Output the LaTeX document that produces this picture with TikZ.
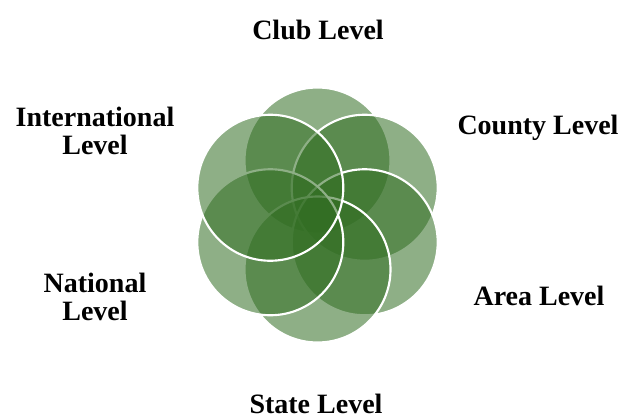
\documentclass[tikz,border=0pt]{standalone}
\usepackage{fontspec}
\setmainfont{Liberation Serif}
\definecolor{petal}{RGB}{50,110,35}
\begin{document}
\begin{tikzpicture}[x=0.75pt,y=-0.75pt,
  petalcircle/.style={circle,minimum size=146*0.75pt,inner sep=0pt,
    fill=petal,fill opacity=0.55,draw=white,draw opacity=1,line width=1.6pt},
  lbl/.style={font=\bfseries\fontsize{21}{21.5}\selectfont,align=center,
    inner sep=0pt,anchor=south,text depth=0pt}]
\useasboundingbox[fill=white] (0,0) rectangle (625,418);
\node[petalcircle] (club) at (317.5,160.5) {};
\node[petalcircle] (county) at (364.7,187.75) {};
\node[petalcircle] (area) at (364.7,242.25) {};
\node[petalcircle] (state) at (317.5,269.5) {};
\node[petalcircle] (national) at (270.3,242.25) {};
\node[petalcircle] (international) at (270.3,187.75) {};
\node[lbl] (tclub) at (318,40) {Club Level};
\node[lbl] (tcounty) at (538,135) {County Level};
\node[lbl] (tarea) at (539,306) {Area Level};
\node[lbl] (tstate) at (316,414) {State Level};
\node[lbl] (tnational) at (95,321) {National\\Level};
\node[lbl] (tinternational) at (95,155) {International\\Level};
\end{tikzpicture}
\end{document}
